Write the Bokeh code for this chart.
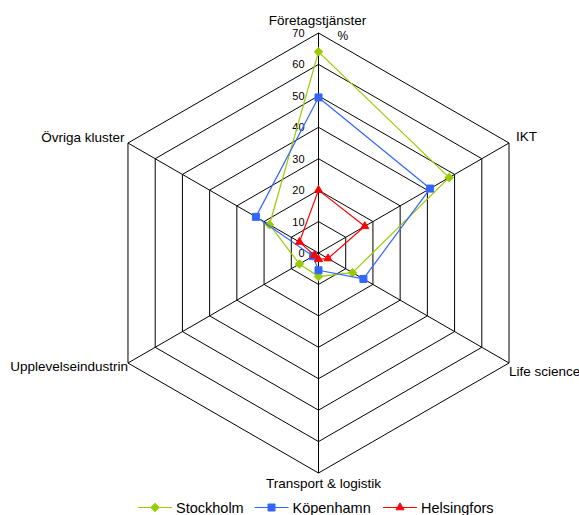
import numpy as np
from bokeh.plotting import figure
from bokeh.models import Range1d
from bokeh.embed import file_html
from bokeh.resources import INLINE
from bokeh.core.properties import value

# ---------------- data ----------------
categories = ["Företagstjänster", "IKT", "Life science",
              "Transport & logistik", "Upplevelseindustrin", "Övriga kluster"]
series_names = ["Stockholm", "Köpenhamn", "Helsingfors"]
stockholm = [64, 48, 12.5, 7.5, 7, 18]
kopenhamn = [49.5, 41, 16.5, 5.5, 2, 23]
helsingfors = [20, 17, 3.5, 2, 1.5, 7]
ticks = [0, 10, 20, 30, 40, 50, 60, 70]
tick_labels = ["0", "10", "20", "30", "40", "50", "60", "70"]
unit_label = "%"
max_val = 70

# ---------------- layout ----------------
W, H = 579, 515
CX, CY = 318, 252.5          # centre of radar in figure pixels
S = 220 / max_val            # pixels per unit
FONT = "Liberation Sans"
colors = ["#99CC00", "#3366FF", "#FF0000"]
markers = ["square", "square", "triangle"]
marker_sizes = [6, 7, 8]
marker_angles = [np.pi / 4, 0, 0]

angles = np.deg2rad([90, 30, -30, -90, -150, 150])

p = figure(width=W, height=H,
           x_range=Range1d(-CX / S, (W - CX) / S),
           y_range=Range1d(-(H - CY) / S, CY / S),
           output_backend="svg", toolbar_location=None,
           x_axis_type=None, y_axis_type=None,
           min_border=0, outline_line_color=None,
           background_fill_color="white", border_fill_color="white")
p.grid.visible = False

# grid rings
ring_xs, ring_ys = [], []
for t in ticks[1:]:
    xs = [t * np.cos(a) for a in angles] + [t * np.cos(angles[0])]
    ys = [t * np.sin(a) for a in angles] + [t * np.sin(angles[0])]
    ring_xs.append(xs)
    ring_ys.append(ys)
p.multi_line(ring_xs, ring_ys, line_color="black", line_width=1)

# spokes
p.segment(x0=[0] * 6, y0=[0] * 6,
          x1=[max_val * np.cos(a) for a in angles],
          y1=[max_val * np.sin(a) for a in angles],
          line_color="black", line_width=1)

# tick labels
p.text(x=[0] * len(ticks), y=ticks, text=tick_labels,
       x_offset=-14, text_align="right", text_baseline="middle",
       text_font=value(FONT), text_font_size=value("11px"), text_color="black")
p.text(x=[0], y=[max_val], text=[unit_label], x_offset=19, y_offset=2.5,
       text_align="left", text_baseline="middle",
       text_font=value(FONT), text_font_size=value("12px"), text_color="black")

# category labels
lab_off = [(-1, -12.5, "center"), (7, -6.5, "left"), (0, 8, "left"),
           (5, 10.5, "center"), (0, 3.5, "right"), (-3.5, -6, "right")]
for cat, a, (dx, dy, al) in zip(categories, angles, lab_off):
    p.text(x=[max_val * np.cos(a)], y=[max_val * np.sin(a)], text=[cat],
           x_offset=dx, y_offset=dy, text_align=al, text_baseline="middle",
           text_font=value(FONT), text_font_size=value("13.5px"),
           text_color="black")

# series
all_series = [stockholm, kopenhamn, helsingfors]
for vals, col, mk, ms, ang in zip(all_series, colors, markers, marker_sizes, marker_angles):
    xs = [v * np.cos(a) for v, a in zip(vals, angles)]
    ys = [v * np.sin(a) for v, a in zip(vals, angles)]
    p.line(xs + [xs[0]], ys + [ys[0]], line_color=col, line_width=1.2)
    p.scatter(xs, ys, marker=mk, size=ms, angle=ang,
              fill_color=col, line_color=col)

# legend (manual, pixel layout converted through the scales)
def to_data(fx, fy):
    return (fx - CX) / S, (CY - fy) / S

leg_y = 507
leg_x = [137.5, 254, 382.5]
line_len = 34
for name, col, mk, ms, ang, lx in zip(series_names, colors, markers, marker_sizes, marker_angles, leg_x):
    x0, y0 = to_data(lx, leg_y)
    x1, _ = to_data(lx + line_len, leg_y)
    xm, _ = to_data(lx + line_len / 2, leg_y)
    xt, _ = to_data(lx + line_len + 4, leg_y)
    p.line([x0, x1], [y0, y0], line_color=col, line_width=1.2)
    p.scatter([xm], [y0], marker=mk, size=ms, angle=ang, fill_color=col, line_color=col)
    p.text(x=[xt], y=[y0], text=[name], text_align="left", text_baseline="middle",
           text_font=value(FONT), text_font_size=value("14.5px"), text_color="black")

open("out.html", "w").write(file_html(p, INLINE))
